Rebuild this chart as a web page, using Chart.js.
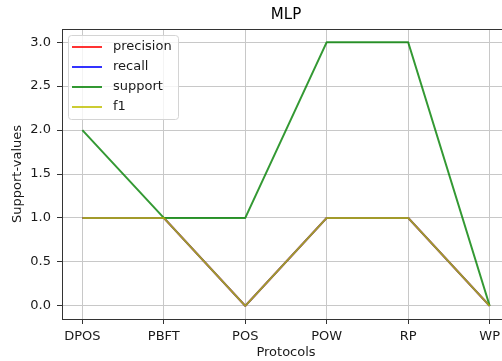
<!DOCTYPE html>
<html>
<head>
<meta charset="utf-8">
<script src="https://cdn.jsdelivr.net/npm/chart.js@4/dist/chart.umd.min.js"></script>
<style>
  html, body { margin: 0; padding: 0; overflow: hidden; background: #fff; }
  #wrap { width: 512px; height: 361px; position: relative; }
</style>
</head>
<body>
<div id="wrap"><canvas id="c"></canvas></div>
<script>
// Categories and per-protocol scores
const protocols = ['DPOS', 'PBFT', 'POS', 'POW', 'RP', 'WP'];
const precision = [1, 1, 0, 1, 1, 0];
const recall    = [1, 1, 0, 1, 1, 0];
const support   = [2, 1, 1, 3, 3, 0];
const f1        = [1, 1, 0, 1, 1, 0];
const yTicks    = [0, 0.5, 1, 1.5, 2, 2.5, 3];

const FONT = '"DejaVu Sans", "Liberation Sans", sans-serif';
Chart.defaults.font.family = FONT;
Chart.defaults.font.size = 13;
Chart.defaults.color = '#1a1a1a';

const toPoints = arr => arr.map((v, i) => ({ x: i, y: v }));

function series(label, values, color, order) {
  return {
    label, data: toPoints(values), borderColor: color, backgroundColor: color,
    borderWidth: 2, pointRadius: 0, pointHoverRadius: 0, tension: 0, fill: false,
    borderJoinStyle: 'round', borderCapStyle: 'butt', order
  };
}

// Box frame on the top and right edges of the plot area
const framePlugin = {
  id: 'frame',
  afterDatasetsDraw(chart) {
    const { ctx, chartArea: a } = chart;
    ctx.save();
    ctx.strokeStyle = '#333';
    ctx.lineWidth = 1;
    ctx.beginPath();
    ctx.moveTo(a.left, Math.round(a.top) + 0.5);
    ctx.lineTo(a.right, Math.round(a.top) + 0.5);
    ctx.moveTo(Math.round(a.right) - 0.5, a.top);
    ctx.lineTo(Math.round(a.right) - 0.5, a.bottom);
    ctx.stroke();
    ctx.restore();
  }
};

// Legend box in the upper-left corner of the plot area
const legendBox = {
  id: 'legendBox',
  afterDraw(chart) {
    const { ctx, chartArea: a } = chart;
    const x = a.left + 6, y = a.top + 6, w = 110, h = 84, r = 3;
    ctx.save();
    ctx.beginPath();
    ctx.roundRect(x + 0.5, y + 0.5, w, h, r);
    ctx.fillStyle = 'rgba(255,255,255,0.8)';
    ctx.fill();
    ctx.strokeStyle = '#d4d4d4';
    ctx.lineWidth = 1;
    ctx.stroke();
    ctx.font = '13px ' + FONT;
    ctx.textBaseline = 'middle';
    ctx.textAlign = 'left';
    chart.data.datasets.forEach((ds, i) => {
      const ly = y + 12 + i * 20;
      ctx.strokeStyle = ds.borderColor;
      ctx.lineWidth = 2;
      ctx.beginPath();
      ctx.moveTo(x + 4, ly);
      ctx.lineTo(x + 34, ly);
      ctx.stroke();
      ctx.fillStyle = '#1a1a1a';
      ctx.fillText(ds.label, x + 45, ly);
    });
    ctx.restore();
  }
};

new Chart(document.getElementById('c'), {
  type: 'line',
  data: {
    datasets: [
      series('precision', precision, 'rgba(255,0,0,0.8)', 4),
      series('recall', recall, 'rgba(0,0,255,0.8)', 3),
      series('support', support, 'rgba(0,128,0,0.8)', 2),
      series('f1', f1, 'rgba(191,191,0,0.8)', 1)
    ]
  },
  options: {
    responsive: true,
    maintainAspectRatio: false,
    animation: false,
    events: [],
    layout: { padding: { left: 0, right: 2, top: 0, bottom: 0 } },
    plugins: {
      legend: { display: false },
      tooltip: { enabled: false },
      title: {
        display: true,
        text: 'MLP',
        fullSize: false,
        color: '#000',
        font: { size: 15, weight: 'normal', lineHeight: 1.2 },
        padding: { top: 6, bottom: 5 }
      }
    },
    scales: {
      x: {
        type: 'linear',
        min: -0.25,
        max: 5.25,
        afterBuildTicks: s => { s.ticks = protocols.map((_, i) => ({ value: i })); },
        afterFit: s => { s.height = 42; },
        ticks: {
          autoSkip: false, maxRotation: 0, padding: 5,
          callback: v => protocols[v]
        },
        grid: { color: '#c8c8c8', lineWidth: 1, tickColor: '#333', tickLength: 5 },
        border: { display: true, color: '#333', width: 1 },
        title: {
          display: true, text: 'Protocols', color: '#1a1a1a',
          font: { size: 13, lineHeight: 1.2 }, padding: { top: 0, bottom: 1 }
        }
      },
      y: {
        min: -0.15,
        max: 3.15,
        afterBuildTicks: s => { s.ticks = yTicks.map(v => ({ value: v })); },
        afterFit: s => { s.width = 62; },
        ticks: { padding: 6, callback: v => Number(v).toFixed(1) },
        grid: { color: '#c8c8c8', lineWidth: 1, tickColor: '#333', tickLength: 5 },
        border: { display: true, color: '#333', width: 1 },
        title: {
          display: true, text: 'Support-values', color: '#1a1a1a',
          font: { size: 13, lineHeight: 1.2 }, padding: { top: 10, bottom: 0 }
        }
      }
    }
  },
  plugins: [framePlugin, legendBox]
});
</script>
</body>
</html>
